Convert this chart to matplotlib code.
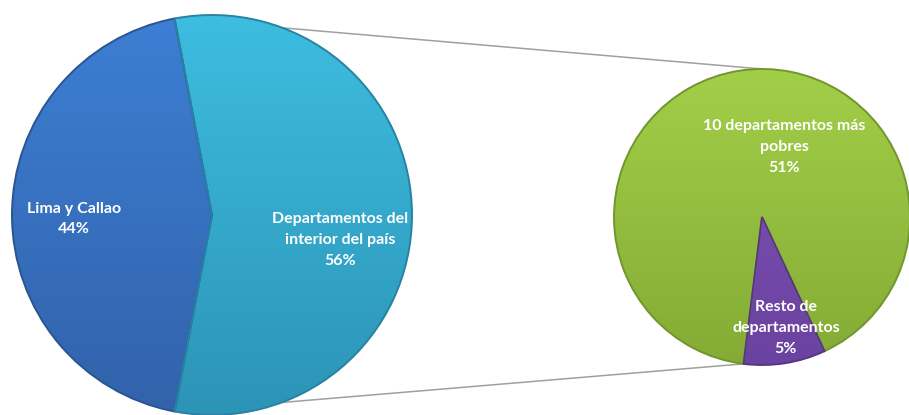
import numpy as np
import matplotlib
matplotlib.use("Agg")
import matplotlib.pyplot as plt
from matplotlib.patches import Wedge
from matplotlib.colors import LinearSegmentedColormap

# ---- data ----
main_labels = ["Lima y Callao", "Departamentos del\ninterior del país"]
main_values = [44, 56]
sub_labels = ["10 departamentos más\npobres", "Resto de\ndepartamentos"]
sub_values = [51, 5]

# ---- style ----
main_top = ["#3c7fd4", "#3dbde0"]
main_bottom = ["#3262aa", "#2c94b6"]
main_edge = ["#2a5592", "#2882a2"]
sub_top = ["#a2cf48", "#8054b9"]
sub_bottom = ["#84ab35", "#6a429f"]
sub_edge = ["#72952d", "#583586"]

plt.rcParams["font.family"] = ["Lato", "DejaVu Sans"]

W, H = 909, 415
fig = plt.figure(figsize=(W / 100, H / 100), dpi=100)
ax = fig.add_axes([0, 0, 1, 1])

main_center = (212, 200)
main_r = 200
sub_center = (762, 198)
sub_r = 148

main_frac = np.array(main_values) / sum(main_values)
main_start = 90 + (main_frac[1] * 360 - 180) / 2
wm, _ = ax.pie(main_values, center=main_center, radius=main_r,
               startangle=main_start, counterclock=True,
               colors=main_top, frame=True,
               wedgeprops=dict(linewidth=0))
ws, _ = ax.pie(sub_values, center=sub_center, radius=sub_r,
               startangle=-65, counterclock=True,
               colors=sub_top, frame=True,
               wedgeprops=dict(linewidth=0))


def shade(wedge, top, bottom, edge):
    cx, cy = wedge.center
    r = wedge.r
    grad = np.linspace(0, 1, 256).reshape(-1, 1)
    cmap = LinearSegmentedColormap.from_list("g", [bottom, top])
    im = ax.imshow(grad, cmap=cmap, origin="lower", aspect="auto",
                   extent=(cx - r, cx + r, cy - r, cy + r), zorder=2,
                   interpolation="bilinear")
    im.set_clip_path(wedge)
    ax.add_patch(Wedge(wedge.center, wedge.r, wedge.theta1, wedge.theta2,
                       fill=False, edgecolor=edge, linewidth=1.4, zorder=3))


for w, t, b, e in zip(wm, main_top, main_bottom, main_edge):
    shade(w, t, b, e)
for w, t, b, e in zip(ws, sub_top, sub_bottom, sub_edge):
    shade(w, t, b, e)

# connector lines
wi = wm[1]
p1 = (wi.center[0] + wi.r * np.cos(np.radians(wi.theta2)),
      wi.center[1] + wi.r * np.sin(np.radians(wi.theta2)))
p2 = (wi.center[0] + wi.r * np.cos(np.radians(wi.theta1)),
      wi.center[1] + wi.r * np.sin(np.radians(wi.theta1)))
q1 = (ws[0].center[0], ws[0].center[1] + ws[0].r)
wp = ws[1]
q2 = (wp.center[0] + wp.r * np.cos(np.radians(wp.theta1)),
      wp.center[1] + wp.r * np.sin(np.radians(wp.theta1)))
ax.plot([p1[0], q1[0]], [p1[1], q1[1]], color="#a0a0a0", lw=1.1, zorder=1)
ax.plot([p2[0], q2[0]], [p2[1], q2[1]], color="#a0a0a0", lw=1.1, zorder=1)

# labels (pixel positions converted to data coordinates)
txt = dict(color="white", fontsize=11.5, fontweight="bold", ha="center",
           va="center", multialignment="center", linespacing=1.6, zorder=5)
main_pos = [(74, 219), (340, 240)]
sub_pos = [(784, 147), (786, 328)]
for lab, v, (x, y) in zip(main_labels, main_values, main_pos):
    ax.text(x, H - y, f"{lab}\n{v}%", **txt)
for lab, v, (x, y) in zip(sub_labels, sub_values, sub_pos):
    ax.text(x, H - y, f"{lab}\n{v}%", **txt)

ax.set_xlim(0, W)
ax.set_ylim(0, H)
ax.set_aspect("auto")
ax.axis("off")
fig.savefig("out.png", dpi=100, facecolor="white")
